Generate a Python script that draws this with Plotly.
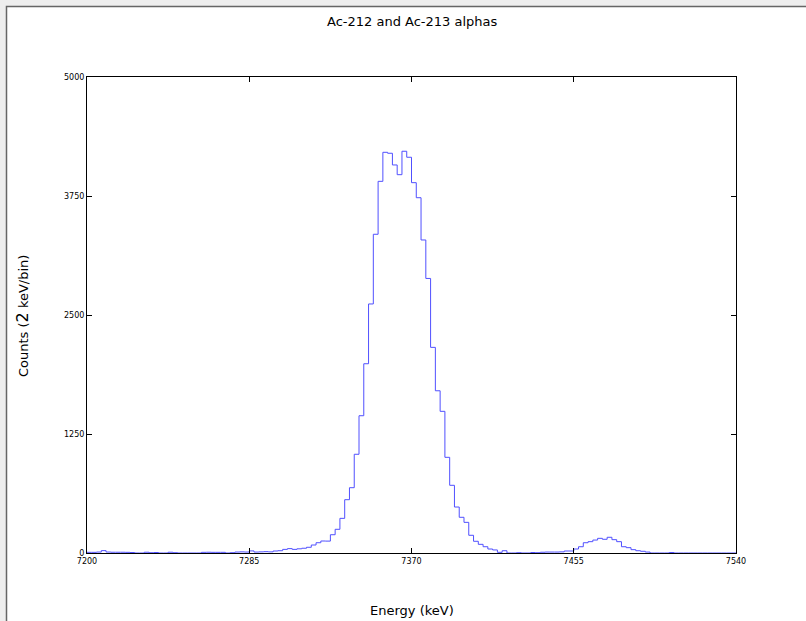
import plotly.graph_objects as go

bin_start = 7200.0
bin_width = 2.5
counts = [
    7, 7, 10, 25, 10, 8, 8, 8, 7, 5,          # 7200-7222.5
    0, 0, 8, 3, 5, 0, 0, 8, 3, 0,             # 7225-7247.5
    0, 0, 0, 0, 7, 8, 7, 7, 7, 0,             # 7250-7272.5
    3, 10, 12, 10, 22, 10, 12, 14, 12, 21,    # 7275-7297.5
    24, 38, 46, 38, 44, 50, 60, 84, 108, 126, # 7300-7322.5
    125, 192, 249, 364, 560, 686, 1037, 1442, 1988, 2616,   # 7325-7347.5
    3348, 3904, 4209, 4199, 4076, 3974, 4220, 4157, 3890, 3732,  # 7350-7372.5
    3288, 2884, 2160, 1704, 1488, 1005, 711, 483, 375, 322,  # 7375-7397.5
    186, 123, 91, 66, 42, 32, 7, 24, 0, 0,    # 7400-7422.5
    3, 0, 0, 5, 3, 8, 10, 10, 10, 12,         # 7425-7447.5
    21, 21, 42, 66, 108, 119, 136, 154, 144, 165,  # 7450-7472.5
    140, 119, 66, 56, 35, 24, 18, 10, 0, 0,   # 7475-7497.5
    0, 0, 5, 0, 0, 0, 0, 0, 0, 0,             # 7500-7522.5
    0, 0, 0, 0, 0, 0,                         # 7525-7537.5
]
x_ticks = [7200, 7285, 7370, 7455, 7540]
y_ticks = [0, 1250, 2500, 3750, 5000]

edges = [bin_start + i * bin_width for i in range(len(counts) + 1)]
ys = counts + [counts[-1]]

fig = go.Figure()
fig.add_trace(go.Scatter(
    x=edges, y=ys, mode="lines", line=dict(color="#5050ff", width=1, shape="hv"),
    showlegend=False, hoverinfo="skip",
))

W, H = 806, 621
L, R, T, B = 87, 70, 77, 68
pw, ph = W - L - R, H - T - B

def px2x(px):
    return (px - L) / pw

def py2y(py):
    return (H - B - py) / ph

fig.update_layout(
    width=W, height=H,
    margin=dict(l=L, r=R, t=T, b=B),
    paper_bgcolor="#eeeeee",
    plot_bgcolor="white",
    font=dict(family="DejaVu Sans", color="black"),
    shapes=[dict(
        type="rect", xref="paper", yref="paper", layer="below",
        x0=px2x(6.5), x1=px2x(812), y0=py2y(6.5), y1=py2y(630),
        fillcolor="white", line=dict(color="#666666", width=1.5),
    )],
    annotations=[
        dict(text="Ac-212 and Ac-213 alphas", xref="paper", yref="paper",
             x=px2x(412), y=py2y(22), xanchor="center", yanchor="middle",
             showarrow=False, font=dict(size=13)),
        dict(text="Energy (keV)", xref="paper", yref="paper",
             x=px2x(412), y=py2y(610), xanchor="center", yanchor="middle",
             showarrow=False, font=dict(size=13)),
        dict(text="Counts (<span style='font-size:16px'>2</span> keV/bin)",
             xref="paper", yref="paper", textangle=-90,
             x=px2x(22), y=py2y(316), xanchor="center", yanchor="middle",
             showarrow=False, font=dict(size=13)),
    ],
)
fig.update_xaxes(
    range=[7200, 7540], tickvals=x_ticks, ticktext=[str(v) for v in x_ticks],
    showgrid=False, zeroline=False, showline=True, linecolor="black", linewidth=1,
    mirror="allticks", ticks="inside", ticklen=5, tickcolor="black",
    tickfont=dict(size=8), fixedrange=True,
)
fig.update_yaxes(
    range=[0, 5000], tickvals=y_ticks, ticktext=[str(v) for v in y_ticks],
    showgrid=False, zeroline=False, showline=True, linecolor="black", linewidth=1,
    mirror="allticks", ticks="inside", ticklen=5, tickcolor="black",
    tickfont=dict(size=8), fixedrange=True,
)

fig.write_html(
    "out.html",
    config={"displayModeBar": False},
    post_script="document.body.style.margin='0';document.body.style.padding='0';"
                "document.body.style.overflow='hidden';document.body.style.background='#eeeeee';",
)
